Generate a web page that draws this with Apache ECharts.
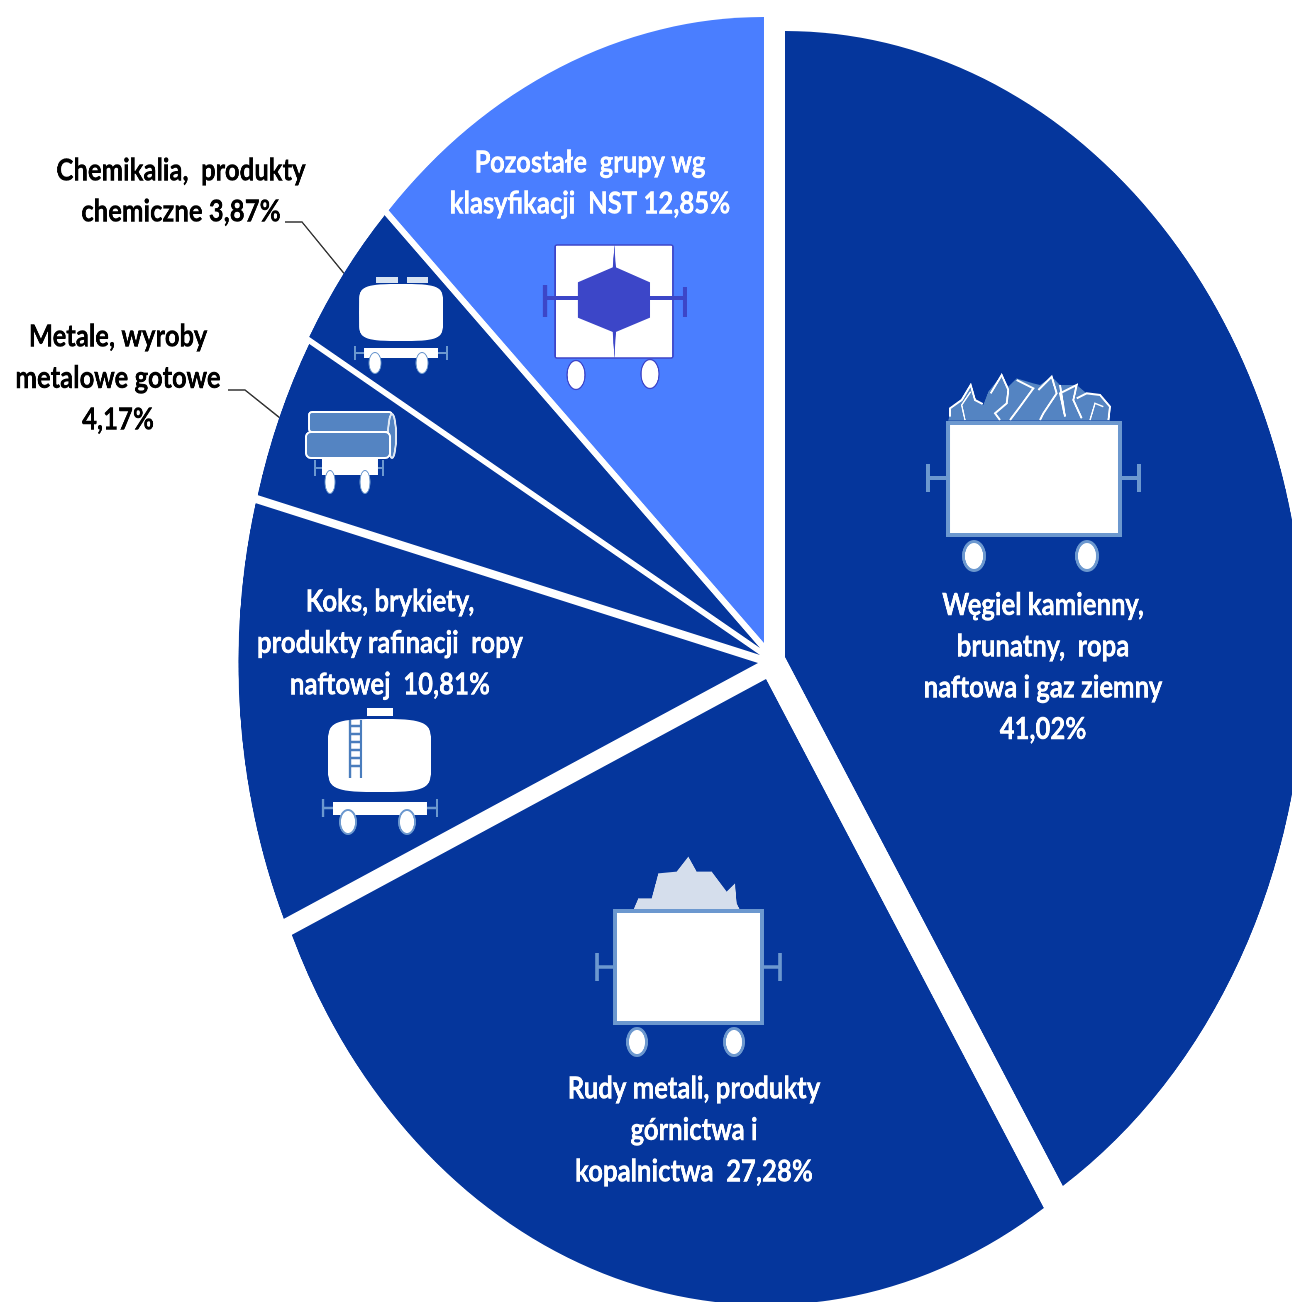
<!DOCTYPE html>
<html lang="pl">
<head>
<meta charset="utf-8">
<title>Struktura przewozów</title>
<script src="https://cdn.jsdelivr.net/npm/echarts@6/dist/echarts.min.js"></script>
<style>
html,body{margin:0;padding:0;background:#fff;width:1292px;height:1302px;overflow:hidden}
#chart{position:absolute;left:0;top:0;width:1557px;height:1302px;transform:scaleX(.83);transform-origin:0 0;filter:blur(.6px)}
</style>
</head>
<body>
<div id="chart"></div>
<script>
// ---- data ----
const categories = [
  'Węgiel kamienny,\nbrunatny,  ropa\nnaftowa i gaz ziemny\n41,02%',
  'Rudy metali, produkty\ngórnictwa i\nkopalnictwa  27,28%',
  'Koks, brykiety,\nprodukty rafinacji  ropy\nnaftowej  10,81%',
  'Metale, wyroby\nmetalowe gotowe\n4,17%',
  'Chemikalia,  produkty\nchemiczne 3,87%',
  'Pozostałe  grupy wg\nklasyfikacji  NST 12,85%'
];
const values = [41.02, 27.28, 10.81, 4.17, 3.87, 12.85];

// ---- styling / layout (screen px; the frame is condensed horizontally by SX) ----
const SX = 0.83;
const DARK = '#05369c', LIGHT = '#4a7eff', RIM = '#6c98cf', PILE = '#5484c2';
const colors = [DARK, DARK, DARK, DARK, DARK, LIGHT];
const apex = [[785,657],[766,679],[758,663],[760,655],[760,648],[764,643]];
const labelPos = [[1043,667],[694,1130],[390,643],[118,378],[181,191],[590,183]];
const labelColor = ['#fff','#fff','#fff','#000','#000','#fff'];
const leader = { 3: [[245,390],[228,390]], 4: [[302,222],[285,222]] };
const RADIUS = 626;

const ix = x => x / SX;

const series = values.map((_, k) => ({
  type: 'pie',
  z: 2,
  animation: false,
  silent: true,
  clockwise: true,
  startAngle: 90,
  minAngle: 0,
  avoidLabelOverlap: false,
  radius: [0, RADIUS],
  center: [ix(apex[k][0]), apex[k][1]],
  data: values.map((v, i) => i === k ? {
    value: v, name: categories[i],
    itemStyle: { color: colors[i] },
    label: {
      show: true,
      position: leader[k] ? 'outside' : 'inside',
      formatter: '{b}',
      color: labelColor[k],
      fontFamily: 'Lato',
      fontWeight: 'bold',
      fontSize: 31,
      lineHeight: 41.3,
      align: 'center',
      verticalAlign: 'middle',
      textBorderColor: labelColor[k],
      textBorderWidth: 0.5
    },
    labelLine: { show: !!leader[k], smooth: false, lineStyle: { color: '#333', width: 1.6 } }
  } : {
    value: v, name: categories[i],
    itemStyle: { color: 'rgba(0,0,0,0)' },
    label: { show: false }, labelLine: { show: false }
  }),
  labelLayout: function (p) {
    const o = {
      x: ix(labelPos[k][0]), y: labelPos[k][1],
      align: 'center', verticalAlign: 'middle', hideOverlap: false
    };
    if (leader[k] && p.labelLinePoints) {
      o.labelLinePoints = [p.labelLinePoints[0]].concat(leader[k].map(q => [ix(q[0]), q[1]]));
    }
    return o;
  }
}));

// ---- wagon pictograms (decoration) ----
const Z = 10;
const rect = (x0,y0,x1,y1,fill,r,stroke,lw) => ({type:'rect',z:Z,silent:true,shape:{x:x0,y:y0,width:x1-x0,height:y1-y0,r:r||0},style:{fill:fill,stroke:stroke||null,lineWidth:lw||0}});
const ell = (cx,cy,rx,ry,fill,stroke,lw) => ({type:'ellipse',z:Z,silent:true,shape:{cx,cy,rx,ry},style:{fill:fill,stroke:stroke||null,lineWidth:lw||0}});
const zoomPts = (ox,oy,a) => a.map(p => [ox+p[0]/3, oy+p[1]/3]);
const poly = (pts,fill) => ({type:'polygon',z:Z,silent:true,shape:{points:pts},style:{fill:fill}});
const line = (pts,stroke,lw) => ({type:'polyline',z:Z,silent:true,shape:{points:pts},style:{stroke:stroke,lineWidth:lw,fill:null}});
const buffers = (xl,xr,xlb,xrb,y,h,c,lw) => [
  line([[xl,y],[xlb,y]],c,lw), line([[xl,y-h],[xl,y+h]],c,lw),
  line([[xr,y],[xrb,y]],c,lw), line([[xr,y-h],[xr,y+h]],c,lw)
];
const wheels = (xs,y,rx,ry,halo,h) => xs.flatMap(x => [ell(x,y,rx+h,ry+h,halo), ell(x,y,rx,ry,'#fff')]);
// barrel outline for tank wagons
const barrel = (x0,y0,x1,y1) => {
  const cx=(x0+x1)/2, cy=(y0+y1)/2, a=(x1-x0)/2, b=(y1-y0)/2, pts=[];
  for (let d=0; d<360; d+=6) {
    const t=d*Math.PI/180, c=Math.cos(t), s=Math.sin(t);
    pts.push([cx+a*Math.sign(c)*Math.pow(Math.abs(c),0.6), cy+b*Math.sign(s)*Math.pow(Math.abs(s),0.3)]);
  }
  return poly(pts,'#fff');
};

const icons = [
  // coal wagon
  poly(zoomPts(900,350,[[145,212],[150,175],[185,150],[212,105],[225,150],[250,165],[265,125],[305,75],[325,110],[350,85],[400,100],[420,105],[455,80],[480,105],[530,105],[560,130],[600,135],[630,170],[630,212]]),PILE),
  line(zoomPts(900,350,[[150,200],[150,175],[185,150],[212,105],[225,150],[248,162]]),'#fff',2),
  line(zoomPts(900,350,[[195,210],[185,165],[212,125]]),'#fff',1.5),
  line(zoomPts(900,350,[[272,130],[305,75],[325,120],[320,160],[285,190],[300,210]]),'#fff',2),
  line(zoomPts(900,350,[[350,90],[400,115],[360,170],[330,210]]),'#fff',2),
  line(zoomPts(900,350,[[415,120],[455,80],[470,130],[430,190],[420,210]]),'#fff',2),
  line(zoomPts(900,350,[[480,105],[495,200],[480,130],[530,105],[520,150],[545,205]]),'#fff',2),
  line(zoomPts(900,350,[[530,145],[560,130],[600,135],[630,170],[625,210]]),'#fff',2),
  line(zoomPts(900,350,[[570,210],[585,160],[610,170]]),'#fff',1.5),
  rect(948,423,1120,535,'#fff',0,RIM,4),
  ...buffers(928,1139,946,1122,478,14,RIM,4),
  ...wheels([974,1087],556,9,13,RIM,3),

  // ore wagon
  poly(zoomPts(580,840,[[160,210],[175,175],[215,175],[235,100],[290,95],[325,50],[350,95],[395,95],[440,155],[465,130],[470,190],[480,210]]),'#d5deec'),
  rect(615,911,762,1023,'#fff',0,RIM,4),
  ...buffers(597,780,613,764,967,14,RIM,3.5),
  ...wheels([637,734],1042,8,12,RIM,3),

  // tank wagon with ladder
  barrel(328,719,431,792),
  rect(367,708,393,716,'#fff'),
  line([[350,720],[350,778]],'#4a7dbd',2.5), line([[361,720],[361,778]],'#4a7dbd',2.5),
  ...[726,734,742,750,758,766].map(y => line([[350,y],[361,y]],'#4a7dbd',2.5)),
  rect(333,802,427,815,'#fff'),
  ...buffers(323,437,333,427,808,9,RIM,2.5),
  ...wheels([348,407],822,7,11,RIM,2),

  // metal wagon
  rect(309,412,392,432,PILE,3,'#fff',2),
  ell(392,436,4,22,PILE,'#dfe8f4',2),
  rect(306,432,390,458,PILE,5,'#fff',2),
  rect(322,458,378,475,'#fff'),
  ...buffers(315,383,322,378,468,8,RIM,2),
  ...wheels([330,365],482,4.5,11,RIM,1),

  // chemical tank wagon
  barrel(359,284,443,341),
  rect(376,277,398,283,'#d9e4f2'),
  rect(407,277,428,283,'#d9e4f2'),
  rect(364,348,438,358,'#fff'),
  ...buffers(355,447,364,438,353,7,RIM,2),
  ...wheels([375,422],363,5.5,10,RIM,1),

  // mixed goods wagon
  rect(555,245,673,358,'#fff',2,'#3d45c8',1.5),
  line([[545,298],[685,298]],'#3c46c8',4),
  line([[545,285],[545,317]],'#3c46c8',4.5),
  line([[685,287],[685,317]],'#3c46c8',4.5),
  poly(zoomPts(520,220,[[278,145],[283,75],[288,145]]),'#3c46c8'),
  poly(zoomPts(520,220,[[278,335],[283,415],[288,335]]),'#3c46c8'),
  poly(zoomPts(520,220,[[283,140],[390,187],[390,293],[283,338],[173,293],[173,187]]),'#3c46c8'),
  ell(576,375,9,14.5,'#fff','#3d45c8',1.2),
  ell(650,374,9,14.5,'#fff','#3d45c8',1.2)
];

const chart = echarts.init(document.getElementById('chart'), null, { devicePixelRatio: 2 });
chart.setOption({
  backgroundColor: '#fff',
  animation: false,
  tooltip: { show: false },
  series: series,
  graphic: [{ type: 'group', x: 0, y: 0, scaleX: 1 / SX, scaleY: 1, silent: true, children: icons }]
});
</script>
</body>
</html>
